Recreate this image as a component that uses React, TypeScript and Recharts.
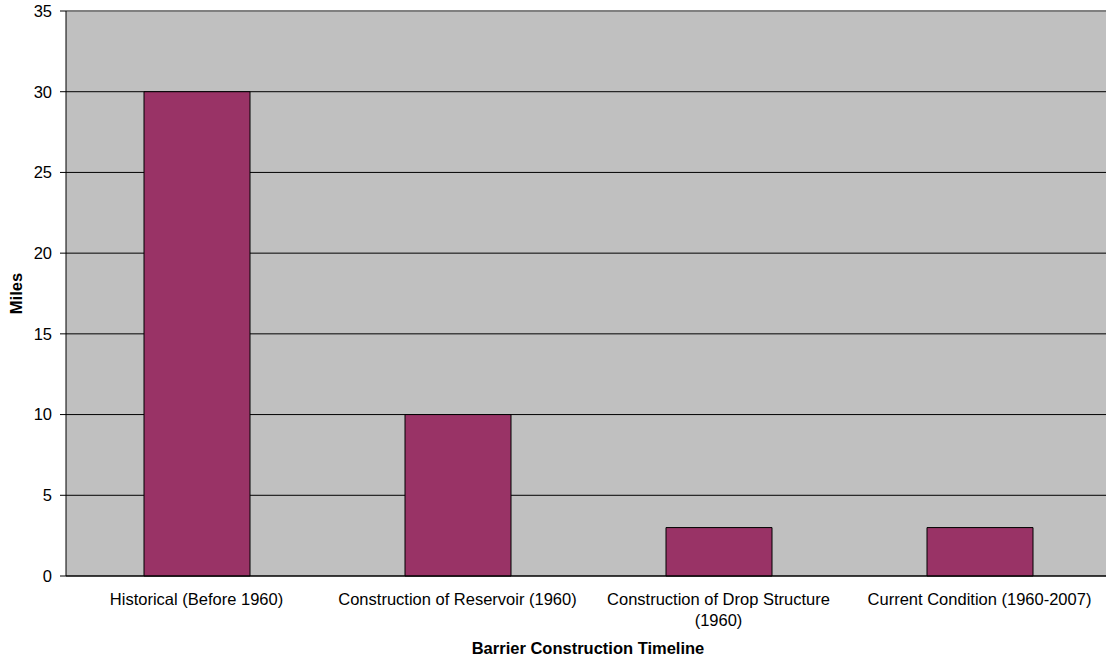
import React from 'react';
import { BarChart, Bar, XAxis, YAxis, CartesianGrid, ReferenceLine, Text, Label } from 'recharts';

const categories = [
  'Historical (Before 1960)',
  'Construction of Reservoir (1960)',
  'Construction of Drop Structure (1960)',
  'Current Condition (1960-2007)',
];
const miles = [30, 10, 3, 3];
const yTicks = [0, 5, 10, 15, 20, 25, 30, 35];
const edgeTicks = [0, 1, 2, 3, 4];

const data = categories.map((name, i) => ({ name, miles: miles[i] }));

const FONT = "Arial, 'Liberation Sans', sans-serif";
const FS = 16.5;

const CategoryTick = (props: any) => {
  const { x, y, payload } = props;
  return (
    <Text
      x={x}
      y={y + 8}
      width={250}
      textAnchor="middle"
      verticalAnchor="start"
      lineHeight="1.27em"
      fontSize={FS}
      fontFamily={FONT}
      style={{ fontSize: FS, fontFamily: FONT }}
      fill="#000"
    >
      {payload.value}
    </Text>
  );
};

export default function App() {
  return (
    <div style={{ position: 'absolute', left: 0, top: 0, width: 1106, height: 658, overflow: 'hidden', background: '#fff' }}>
      <BarChart
        width={1120}
        height={658}
        data={data}
        margin={{ top: 11, right: 10, bottom: 0, left: 0 }}
        barSize={106}
      >
        <CartesianGrid xAxisId="cat" horizontal vertical={false} stroke="#000" fill="#C0C0C0" fillOpacity={1} />
        <XAxis
          xAxisId="cat"
          dataKey="name"
          height={81}
          axisLine={false}
          tickLine={false}
          tick={<CategoryTick />}
          interval={0}
        >
          <Label
            content={(p: any) => {
              const vb = p.viewBox;
              return (
                <text x={vb.x + vb.width / 2} y={vb.y + 77} textAnchor="middle" fontSize={FS} fontWeight="bold" fontFamily={FONT} fill="#000">
                  Barrier Construction Timeline
                </text>
              );
            }}
          />
        </XAxis>
        <XAxis
          xAxisId="a_edges"
          type="number"
          domain={[0, 4]}
          ticks={edgeTicks}
          height={1}
          tick={false}
          axisLine={{ stroke: '#000' }}
          tickLine={{ stroke: '#000' }}
          tickSize={6}
        />
        <YAxis
          width={66}
          domain={[0, 35]}
          ticks={yTicks}
          interval={0}
          axisLine={{ stroke: '#000' }}
          tickLine={{ stroke: '#000' }}
          tickSize={6}
          tickMargin={8}
          tick={{ fill: '#000', fontSize: FS, fontFamily: FONT }}
        >
          <Label
            content={(p: any) => {
              const vb = p.viewBox;
              const cx = vb.x + 22;
              const cy = vb.y + vb.height / 2;
              return (
                <text x={cx} y={cy} transform={`rotate(-90 ${cx} ${cy})`} textAnchor="middle" fontSize={FS} fontWeight="bold" fontFamily={FONT} fill="#000">
                  Miles
                </text>
              );
            }}
          />
        </YAxis>
        <ReferenceLine y={35} xAxisId="cat" stroke="#808080" strokeWidth={2} />
        <Bar dataKey="miles" xAxisId="cat" fill="#993366" stroke="#000" strokeWidth={1} isAnimationActive={false} />
      </BarChart>
    </div>
  );
}
